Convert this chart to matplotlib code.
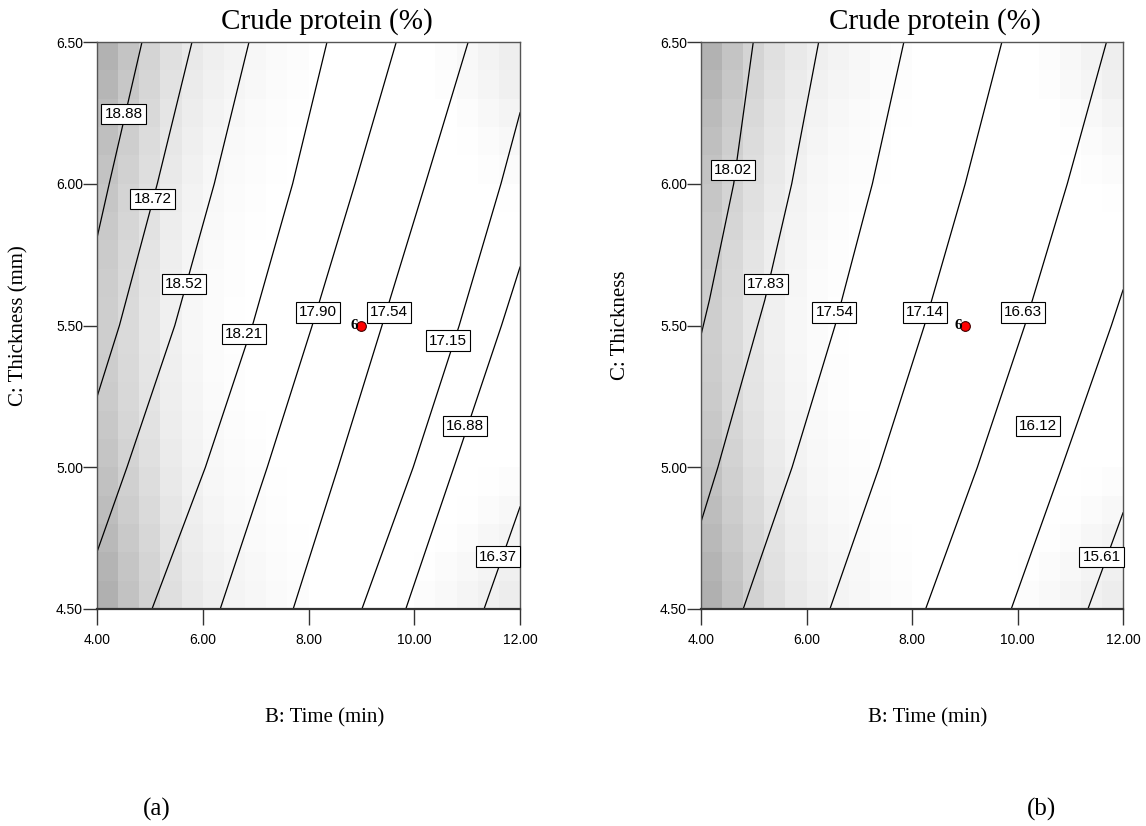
import numpy as np
import matplotlib.pyplot as plt

# axis ticks
x_ticks = [4.0, 6.0, 8.0, 10.0, 12.0]
y_ticks = [4.5, 5.0, 5.5, 6.0, 6.5]

# grey shading blocks (0-255), top row first
# left edge: columns 0-9, right edge: columns 15-19, the rest is white
shade_left = [
    [178, 196, 212, 224, 233, 239, 243, 247, 250, 252],
    [182, 199, 214, 226, 235, 241, 245, 248, 251, 253],
    [187, 203, 217, 229, 237, 243, 247, 250, 252, 254],
    [191, 206, 220, 231, 239, 245, 249, 251, 253, 255],
    [195, 209, 222, 233, 241, 247, 250, 252, 254, 255],
    [198, 212, 224, 235, 243, 248, 251, 253, 255, 255],
    [201, 214, 226, 237, 244, 249, 252, 254, 255, 255],
    [203, 216, 228, 238, 245, 250, 253, 255, 255, 255],
    [205, 217, 229, 239, 246, 251, 253, 255, 255, 255],
    [206, 218, 230, 240, 247, 251, 254, 255, 255, 255],
    [206, 218, 230, 240, 247, 251, 254, 255, 255, 255],
    [205, 217, 229, 239, 246, 251, 253, 255, 255, 255],
    [203, 216, 228, 238, 245, 250, 253, 255, 255, 255],
    [200, 214, 226, 237, 244, 249, 252, 254, 255, 255],
    [197, 211, 224, 235, 243, 248, 251, 253, 255, 255],
    [193, 208, 221, 233, 241, 247, 250, 252, 254, 255],
    [189, 205, 218, 230, 239, 245, 249, 251, 253, 255],
    [185, 201, 215, 227, 237, 243, 247, 250, 252, 254],
    [180, 197, 212, 225, 235, 241, 245, 248, 251, 253],
    [176, 194, 210, 223, 233, 239, 244, 247, 250, 252],
]
shade_right = [
    [255, 252, 248, 243, 238],
    [255, 253, 249, 245, 240],
    [255, 255, 252, 248, 244],
    [255, 255, 254, 251, 248],
    [255, 255, 255, 253, 251],
    [255, 255, 255, 255, 254],
    [255, 255, 255, 255, 255],
    [255, 255, 255, 255, 255],
    [255, 255, 255, 255, 255],
    [255, 255, 255, 255, 255],
    [255, 255, 255, 255, 255],
    [255, 255, 255, 255, 255],
    [255, 255, 255, 255, 255],
    [255, 255, 255, 255, 255],
    [255, 255, 255, 255, 255],
    [255, 255, 255, 254, 252],
    [255, 255, 254, 251, 248],
    [255, 254, 251, 247, 244],
    [254, 251, 248, 244, 240],
    [252, 249, 245, 241, 237],
]

# panel (a) contour lines (Time, Thickness points along each line)
a_levels = ['18.88', '18.72', '18.52', '18.21', '17.90', '17.54', '17.15', '16.88', '16.37']
a_line_x = [
    [4.851, 4.231, 4.0],
    [5.797, 5.140, 4.424, 4.0],
    [6.875, 6.218, 5.471, 4.567, 4.0],
    [8.35, 7.70, 6.94, 6.05, 5.04],
    [9.66, 8.88, 8.07, 7.22, 6.33],
    [11.02, 10.21, 9.39, 8.56, 7.71],
    [12.0, 11.64, 10.85, 9.98, 9.01],
    [12.0, 11.65, 10.75, 9.84],
    [12.0, 11.32],
]
a_line_y = [
    [6.5, 6.0, 5.809],
    [6.5, 6.0, 5.5, 5.248],
    [6.5, 6.0, 5.5, 5.0, 4.701],
    [6.5, 6.0, 5.5, 5.0, 4.5],
    [6.5, 6.0, 5.5, 5.0, 4.5],
    [6.5, 6.0, 5.5, 5.0, 4.5],
    [6.25, 6.0, 5.5, 5.0, 4.5],
    [5.706, 5.5, 5.0, 4.5],
    [4.86, 4.5],
]

# panel (b) contour lines
b_levels = ['18.02', '17.83', '17.54', '17.14', '16.63', '16.12', '15.61']
b_line_x = [
    [4.991, 4.62, 4.16, 4.0],
    [6.231, 5.72, 5.21, 4.32, 4.0],
    [7.846, 7.249, 6.542, 5.727, 4.80],
    [9.704, 9.009, 8.235, 7.378, 6.444],
    [11.687, 10.944, 10.138, 9.239, 8.258],
    [12.0, 11.78, 10.84, 9.881],
    [12.0, 11.335],
]
b_line_y = [
    [6.5, 6.0, 5.59, 5.466],
    [6.5, 6.0, 5.59, 5.0, 4.807],
    [6.5, 6.0, 5.5, 5.0, 4.5],
    [6.5, 6.0, 5.5, 5.0, 4.5],
    [6.5, 6.0, 5.5, 5.0, 4.5],
    [5.625, 5.5, 5.0, 4.5],
    [4.839, 4.5],
]

# design centre point (6 replicates)
center_x = 9.0
center_y = 5.5
center_n = '6'

# where the level boxes sit
a_label_pos = [(4.50, 6.246), (5.05, 5.946), (5.645, 5.646), (6.78, 5.47), (8.18, 5.546),
               (9.523, 5.546), (10.638, 5.447), (10.96, 5.146), (11.584, 4.685)]
b_label_pos = [(4.605, 6.047), (5.232, 5.646), (6.529, 5.546), (8.24, 5.546),
               (10.106, 5.546), (10.389, 5.145), (11.593, 4.682)]

sans = 'Liberation Sans'
serif = 'Liberation Serif'

fig = plt.figure(figsize=(11.46, 8.26), dpi=100)
ax_a = fig.add_axes([97 / 1146, 1 - 609 / 826, 423 / 1146, 567 / 826])
ax_b = fig.add_axes([701 / 1146, 1 - 609 / 826, 422 / 1146, 567 / 826])

# full 20x20 shading table
shade = np.full((20, 20), 255.0)
shade[:, :10] = shade_left
shade[:, 15:] = shade_right
xe = np.linspace(4, 12, 21)
ye = np.linspace(6.5, 4.5, 21)


def draw_panel(ax, levels, lx, ly, label_pos, ylab):
    ax.pcolormesh(xe, ye, shade, cmap='gray', vmin=0, vmax=255, shading='flat', zorder=0)
    for xs, ys in zip(lx, ly):
        ax.plot(xs, ys, color='black', lw=0.9, zorder=2)
    for lev, (px, py) in zip(levels, label_pos):
        ax.text(px, py, lev, fontsize=11, family=sans, ha='center', va='center', zorder=4,
                bbox=dict(boxstyle='square,pad=0.2', fc='white', ec='black', lw=0.8))
    ax.plot([center_x], [center_y], 'o', ms=7, mfc='red', mec='#400000', mew=0.8, zorder=5)
    ax.annotate(center_n, (center_x, center_y), xytext=(-2, 0), textcoords='offset points',
                ha='right', va='center', fontsize=11, fontweight='bold', family=serif, zorder=5)

    ax.set_xlim(4, 12)
    ax.set_ylim(4.5, 6.5)
    ax.set_xticks(x_ticks)
    ax.set_yticks(y_ticks)
    ax.set_xticklabels(['%.2f' % v for v in x_ticks], family=sans, fontsize=10)
    ax.set_yticklabels(['%.2f' % v for v in y_ticks], family=sans, fontsize=10)
    ax.tick_params(axis='x', direction='out', length=11.5, width=1, color='#333333', pad=6)
    ax.tick_params(axis='y', direction='out', length=10, width=1, color='#333333', pad=0)
    for s in ['top', 'right', 'left']:
        ax.spines[s].set_color('#555555')
        ax.spines[s].set_linewidth(1.0)
    ax.spines['bottom'].set_color('#333333')
    ax.spines['bottom'].set_linewidth(1.6)
    ax.set_ylabel(ylab, family=serif, fontsize=15)


draw_panel(ax_a, a_levels, a_line_x, a_line_y, a_label_pos, 'C: Thickness (mm)')
draw_panel(ax_b, b_levels, b_line_x, b_line_y, b_label_pos, 'C: Thickness')
# label anchor is the right side of the rotated text
ax_a.yaxis.set_label_coords(-69 / 423, 0.5)
ax_b.yaxis.set_label_coords(-71 / 422, 0.5)

# titles, axis titles and panel tags
for cx in [327 / 1146, 935 / 1146]:
    fig.text(cx, 1 - 22 / 826, 'Crude protein (%)', family=serif, fontsize=21, ha='center', va='center')
for cx in [325 / 1146, 928 / 1146]:
    fig.text(cx, 1 - 718 / 826, 'B: Time (min)', family=serif, fontsize=15, ha='center', va='center')
fig.text(157 / 1146, 1 - 809 / 826, '(a)', family=serif, fontsize=18, ha='center', va='center')
fig.text(1042 / 1146, 1 - 809 / 826, '(b)', family=serif, fontsize=18, ha='center', va='center')

fig.savefig('out.png', dpi=100)
